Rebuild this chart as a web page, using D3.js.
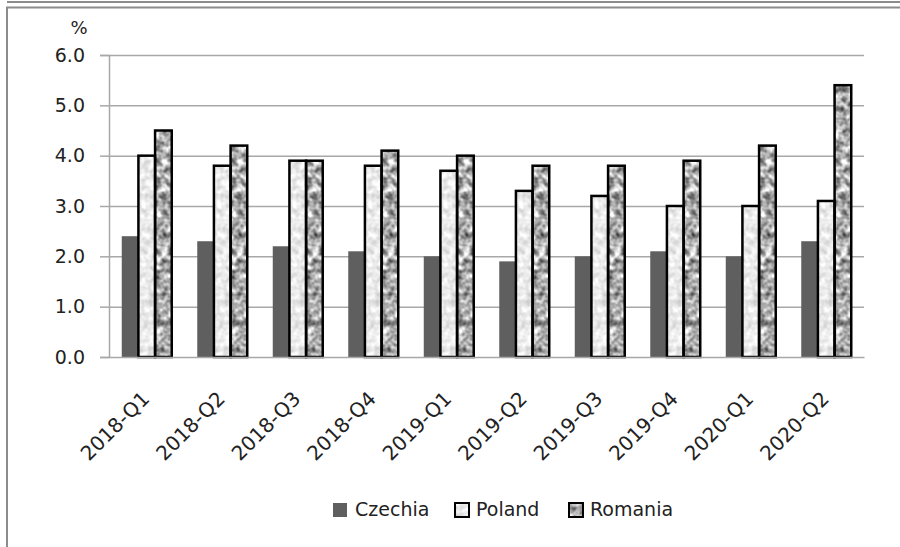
<!DOCTYPE html>
<html><head><meta charset="utf-8">
<script src="https://cdn.jsdelivr.net/npm/d3@7"></script>
<style>
html,body{margin:0;padding:0;background:#fff;}
svg text{font-family:"DejaVu Sans",sans-serif;fill:#222;}
</style>
</head><body>
<svg id="c" width="900" height="547"></svg>
<script>
const categories = ["2018-Q1","2018-Q2","2018-Q3","2018-Q4","2019-Q1","2019-Q2","2019-Q3","2019-Q4","2020-Q1","2020-Q2"];
const seriesNames = ["Czechia","Poland","Romania"];
const czechia = [2.4,2.3,2.2,2.1,2.0,1.9,2.0,2.1,2.0,2.3];
const poland  = [4.0,3.8,3.9,3.8,3.7,3.3,3.2,3.0,3.0,3.1];
const romania = [4.5,4.2,3.9,4.1,4.0,3.8,3.8,3.9,4.2,5.4];
const yTicks = [0,1,2,3,4,5,6];
const unitLabel = "%";

const seriesValues = [czechia, poland, romania];
const data = categories.map((c,i)=>({cat:c, vals:seriesNames.map((s,j)=>({series:s, idx:j, v:seriesValues[j][i]}))}));

const svg = d3.select("#c");
const defs = svg.append("defs");
function texFilter(id, k, c, freq, oct, seed){
  const f = defs.append("filter").attr("id",id).attr("x","0").attr("y","0").attr("width","1").attr("height","1")
    .attr("color-interpolation-filters","sRGB");
  f.append("feTurbulence").attr("type","fractalNoise").attr("baseFrequency",freq).attr("numOctaves",oct).attr("seed",seed).attr("result","n");
  f.append("feColorMatrix").attr("in","n").attr("type","matrix")
    .attr("values",`${k} 0 0 0 ${c}  ${k} 0 0 0 ${c}  ${k} 0 0 0 ${c}  0 0 0 0 1`).attr("result","g");
  f.append("feComposite").attr("in","g").attr("in2","SourceGraphic").attr("operator","in");
}
texFilter("texP", 0.35, 0.745, 0.15, 2, 4);
texFilter("texR", 1.25, 0.05, 0.15, 2, 7);

// frame
svg.append("line").attr("x1",7).attr("x2",900).attr("y1",2).attr("y2",2).attr("stroke","#8c8c8c").attr("stroke-width",2);
svg.append("line").attr("x1",6).attr("x2",900).attr("y1",7.5).attr("y2",7.5).attr("stroke","#8c8c8c").attr("stroke-width",2);
svg.append("line").attr("x1",7).attr("x2",7).attr("y1",7).attr("y2",547).attr("stroke","#8c8c8c").attr("stroke-width",2);

const mLeft = 109, mRight = 864, mTop = 55, mBottom = 357;
const x0 = d3.scaleBand().domain(categories).range([mLeft,mRight]).paddingInner(0.338).paddingOuter(0.169);
const x1 = d3.scaleBand().domain(seriesNames).range([0,x0.bandwidth()]);
const y = d3.scaleLinear().domain([0,6]).range([mBottom,mTop]);

// grid
const grid = svg.append("g").attr("transform",`translate(${mLeft},0)`)
  .call(d3.axisLeft(y).tickValues(yTicks.slice(1)).tickSize(-(mRight-mLeft)).tickFormat(""));
grid.select(".domain").remove();
grid.selectAll("line").attr("stroke","#a8a8a8").attr("stroke-width",1.5);

// y axis
const ya = svg.append("g").attr("transform",`translate(${mLeft},0)`)
  .call(d3.axisLeft(y).tickValues(yTicks).tickSize(9).tickPadding(15).tickFormat(d3.format(".1f")));
ya.select(".domain").attr("stroke","#a8a8a8").attr("stroke-width",1.5);
ya.selectAll("line").attr("stroke","#a8a8a8").attr("stroke-width",1.5);
ya.selectAll("text").attr("font-size",19).attr("fill","#222").attr("font-family","DejaVu Sans");

svg.append("text").attr("x",79).attr("y",34).attr("text-anchor","middle").attr("font-size",18).text(unitLabel);

// bars
const fills = {Czechia:"#5f5f5f", Poland:"#efefef", Romania:"#a8a8a8"};
const filt = {Czechia:null, Poland:"url(#texP)", Romania:"url(#texR)"};
const g = svg.append("g");
const grp = g.selectAll("g.cat").data(data).join("g").attr("class","cat").attr("transform",d=>`translate(${x0(d.cat)},0)`);
grp.selectAll("rect.fill").data(d=>d.vals).join("rect").attr("class","fill")
  .attr("x",d=>x1(d.series)).attr("width",x1.bandwidth())
  .attr("y",d=>y(d.v)).attr("height",d=>y(0)-y(d.v))
  .attr("fill",d=>fills[d.series]).attr("filter",d=>filt[d.series]);
grp.selectAll("rect.edge").data(d=>d.vals.filter(v=>v.series!=="Czechia")).join("rect").attr("class","edge")
  .attr("x",d=>x1(d.series)).attr("width",x1.bandwidth())
  .attr("y",d=>y(d.v)).attr("height",d=>y(0)-y(d.v))
  .attr("fill","none").attr("stroke","#000").attr("stroke-width",2.5);

// x axis
const xa = svg.append("g").attr("transform",`translate(0,${mBottom})`)
  .call(d3.axisBottom(x0).tickSize(0).tickFormat(d=>d));
xa.select(".domain").attr("stroke","#a8a8a8").attr("stroke-width",1.5);
xa.selectAll("text").attr("font-size",20).attr("font-family","DejaVu Sans").attr("fill","#222")
  .attr("text-anchor","end").attr("dy",null).attr("y",null)
  .attr("transform","translate(4,43) rotate(-45)");

// legend
const legend = svg.append("g");
const legendPos = [{sx:333, tx:355},{sx:455, tx:476},{sx:569, tx:590}];
seriesNames.forEach((s,i)=>{
  const lg = legend.append("g");
  lg.append("rect").attr("x",legendPos[i].sx).attr("y",503).attr("width",14).attr("height",14)
    .attr("fill",fills[s]).attr("filter",filt[s]);
  if(s!=="Czechia") lg.append("rect").attr("x",legendPos[i].sx).attr("y",503).attr("width",14).attr("height",14)
    .attr("fill","none").attr("stroke","#000").attr("stroke-width",2);
  lg.append("text").attr("x",legendPos[i].tx).attr("y",516).attr("font-size",19).text(s);
});
</script>
</body></html>
